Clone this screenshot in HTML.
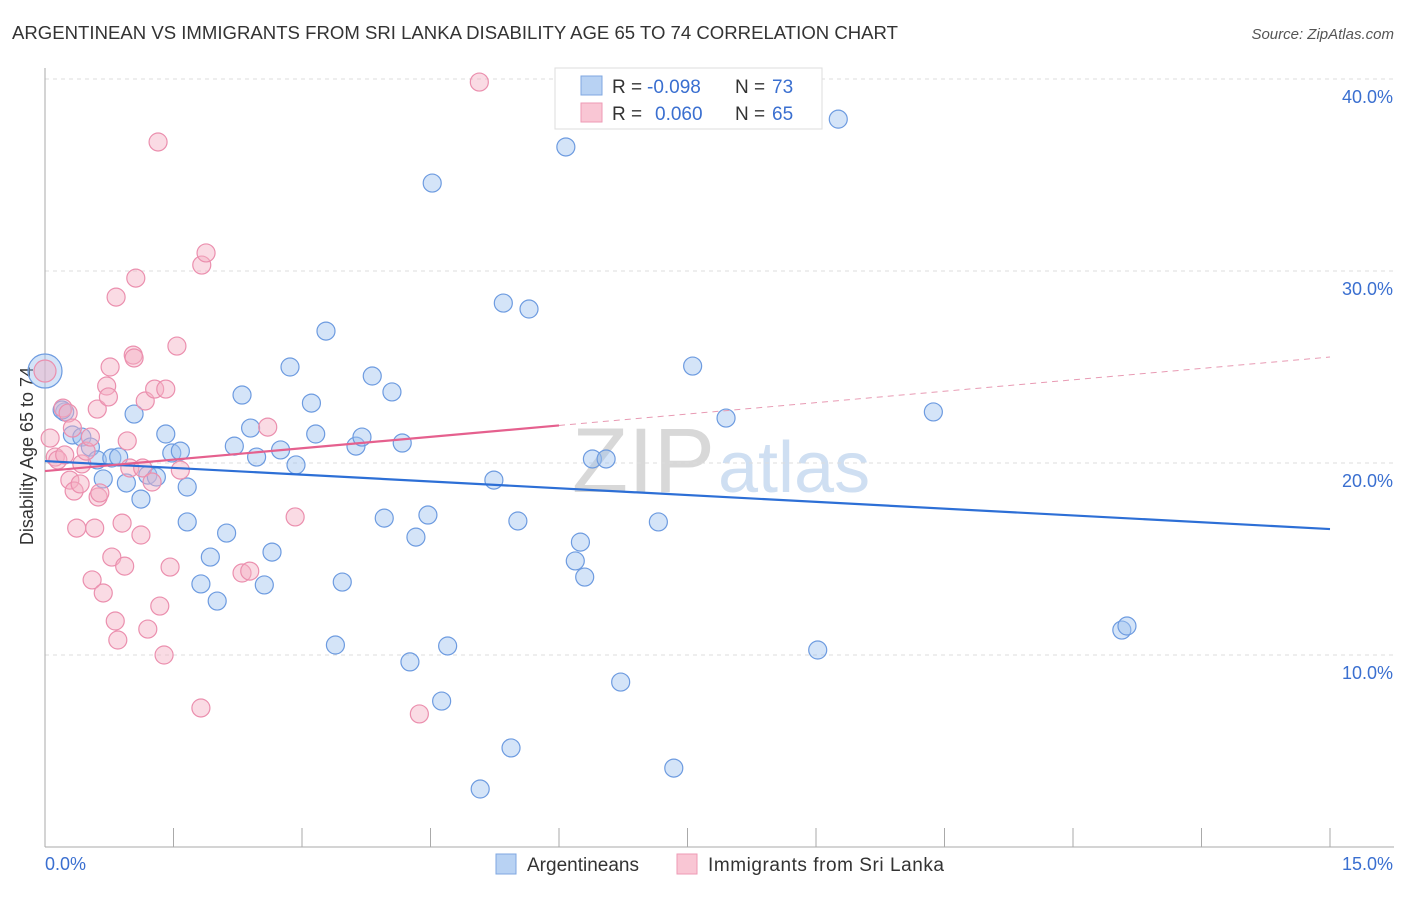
<!DOCTYPE html>
<html><head><meta charset="utf-8"><style>
body{margin:0;background:#fff;font-family:"Liberation Sans",sans-serif}
svg text{font-family:"Liberation Sans",sans-serif}
</style></head><body>
<svg id="c" width="1406" height="892">
<text x="12" y="39" font-size="18" fill="#333" textLength="886" lengthAdjust="spacingAndGlyphs">ARGENTINEAN VS IMMIGRANTS FROM SRI LANKA DISABILITY AGE 65 TO 74 CORRELATION CHART</text>
<text x="1394" y="39" font-size="15" fill="#555" font-style="italic" text-anchor="end">Source: ZipAtlas.com</text>
<text x="715" y="492" font-size="92" fill="#d8d8d8" text-anchor="end" font-family="Liberation Serif">ZIP</text>
<text x="718" y="492" font-size="72" fill="#cfdff2">atlas</text>
<text transform="translate(33,456) rotate(-90)" font-size="18" fill="#333" text-anchor="middle">Disability Age 65 to 74</text>
<g id="grid"></g><g id="pts"></g><g id="lines"></g>
<g>
<rect x="555" y="68" width="267" height="61" fill="#fff" stroke="#ddd"/>
<rect x="581" y="76" width="21" height="19" fill="#b8d2f3" stroke="#7fa7e0"/>
<rect x="581" y="103" width="21" height="19" fill="#f9c6d4" stroke="#ee9ab5"/>
<text x="612" y="93" font-size="19" fill="#333">R =</text>
<text x="647" y="93" font-size="19" fill="#3a6fd0">-0.098</text>
<text x="735" y="93" font-size="19" fill="#333">N =</text>
<text x="772" y="93" font-size="19" fill="#3a6fd0">73</text>
<text x="612" y="120" font-size="19" fill="#333">R =</text>
<text x="655" y="120" font-size="19" fill="#3a6fd0">0.060</text>
<text x="735" y="120" font-size="19" fill="#333">N =</text>
<text x="772" y="120" font-size="19" fill="#3a6fd0">65</text>
</g>
<g>
<rect x="496" y="854" width="20" height="20" fill="#b8d2f3" stroke="#7fa7e0"/>
<text x="527" y="871" font-size="19" fill="#333">Argentineans</text>
<rect x="677" y="854" width="20" height="20" fill="#f9c6d4" stroke="#ee9ab5"/>
<text x="708" y="871" font-size="19" fill="#333" textLength="236">Immigrants from Sri Lanka</text>
</g>
</svg>
<script>
const xTicks=[0,15];
const yTicks=[10,20,30,40];
const blueX=[0,0.23,0.20,0.32,0.43,0.53,0.61,0.68,0.78,0.86,0.95,1.04,1.12,1.20,1.30,1.41,1.48,1.58,1.66,1.66,1.82,1.93,2.01,2.12,2.21,2.30,2.40,2.47,2.56,2.65,2.75,2.86,2.93,3.11,3.16,3.28,3.39,3.47,3.63,3.70,3.82,3.96,4.05,4.17,4.26,4.33,4.47,4.52,4.63,4.70,5.08,5.24,5.35,5.44,5.52,5.65,6.08,6.19,6.25,6.30,6.39,6.55,6.72,6.86,7.16,7.34,7.56,7.95,9.02,9.26,10.37,12.57,12.63];
const blueY=[24.79,22.66,22.76,21.46,21.35,20.83,20.16,19.17,20.26,20.31,18.96,22.55,18.12,19.37,19.27,21.51,20.52,20.62,18.75,16.93,13.70,15.10,12.81,16.35,20.88,23.54,21.82,20.31,13.65,15.36,20.68,25.0,19.90,23.12,21.51,26.87,10.52,13.80,20.88,21.35,24.53,17.13,23.70,21.04,9.64,16.14,17.29,34.58,7.60,10.47,3.02,19.11,28.33,5.16,16.98,28.02,36.46,14.90,15.88,14.06,20.21,20.21,8.59,38.75,16.93,4.11,25.05,22.34,10.26,37.91,22.66,11.30,11.51];
const pinkX=[0,0.06,0.12,0.15,0.21,0.23,0.27,0.29,0.32,0.34,0.37,0.41,0.43,0.48,0.53,0.55,0.58,0.61,0.62,0.64,0.68,0.72,0.74,0.76,0.78,0.82,0.83,0.85,0.90,0.93,0.96,0.99,1.03,1.06,1.04,1.12,1.14,1.17,1.20,1.25,1.28,1.32,1.34,1.39,1.41,1.46,1.54,1.58,1.82,1.83,1.88,2.30,2.39,2.60,2.92,4.37,5.07];
const pinkY=[24.79,21.30,20.31,20.16,22.86,20.42,22.60,19.11,21.82,18.54,16.61,18.91,19.95,20.62,21.35,13.91,16.61,22.81,18.23,18.44,13.23,24.01,23.44,25.0,15.10,11.77,28.64,10.78,16.87,14.63,21.15,19.74,25.62,29.63,25.47,16.25,19.74,23.23,11.35,19.01,23.85,36.72,12.55,10.0,23.85,14.58,26.09,19.63,7.24,30.31,30.94,14.27,14.37,21.87,17.19,6.93,39.84];
const blueTrend=[20.10,16.56];
const pinkTrend=[19.58,25.52];
const pinkSolidEnd=6.0;
const X=v=>45+v*1285/15, Y=v=>847-v*19.2;
const NS='http://www.w3.org/2000/svg';
function mk(t,a,p){const e=document.createElementNS(NS,t);for(const k in a)e.setAttribute(k,a[k]);p.appendChild(e);return e;}
const g=document.getElementById('grid');
yTicks.forEach(t=>{const l=mk('line',{x1:45,x2:1394,y1:Y(t),y2:Y(t),stroke:'#ddd','stroke-dasharray':'4,4'},g);


const tx=mk('text',{x:1393,y:Y(t)+24,'font-size':18,fill:'#3a6fd0','text-anchor':'end'},g);tx.textContent=t.toFixed(1)+'%';

});
mk('line',{x1:45,x2:45,y1:68,y2:847,stroke:'#aaa'},g);
mk('line',{x1:45,x2:1394,y1:847,y2:847,stroke:'#aaa'},g);
for(let i=0;i<=10;i++){mk('line',{x1:X(i*1.5),x2:X(i*1.5),y1:828,y2:847,stroke:'#aaa'},g);}
xTicks.forEach((t,i)=>{const tx=mk('text',{x:i?1393:45,y:870,'font-size':18,fill:'#3a6fd0','text-anchor':i?'end':'start'},g);tx.textContent=t.toFixed(1)+'%';

});
const p=document.getElementById('pts');
blueX.forEach((x,i)=>{const c=mk('circle',{cx:X(x),cy:Y(blueY[i]),r:i==0?17:9,fill:'rgba(160,195,240,0.45)',stroke:'#6d9be0','stroke-width':1.2},p);

});
pinkX.forEach((x,i)=>{const c=mk('circle',{cx:X(x),cy:Y(pinkY[i]),r:i==0?11:9,fill:'rgba(245,175,195,0.45)',stroke:'#eb8fae','stroke-width':1.2},p);

});
const L=document.getElementById('lines');
let l=mk('line',{x1:X(0),y1:Y(blueTrend[0]),x2:X(15),y2:Y(blueTrend[1]),stroke:'#2d6fd6','stroke-width':2.2},L);


const pm=(pinkTrend[1]-pinkTrend[0])/15, pe=pinkTrend[0]+pm*pinkSolidEnd;
l=mk('line',{x1:X(0),y1:Y(pinkTrend[0]),x2:X(pinkSolidEnd),y2:Y(pe),stroke:'#e5608e','stroke-width':2.2},L);


l=mk('line',{x1:X(pinkSolidEnd),y1:Y(pe),x2:X(15),y2:Y(pinkTrend[1]),stroke:'#e89ab3','stroke-width':1,'stroke-dasharray':'6,5'},L);


</script>
</body></html>
